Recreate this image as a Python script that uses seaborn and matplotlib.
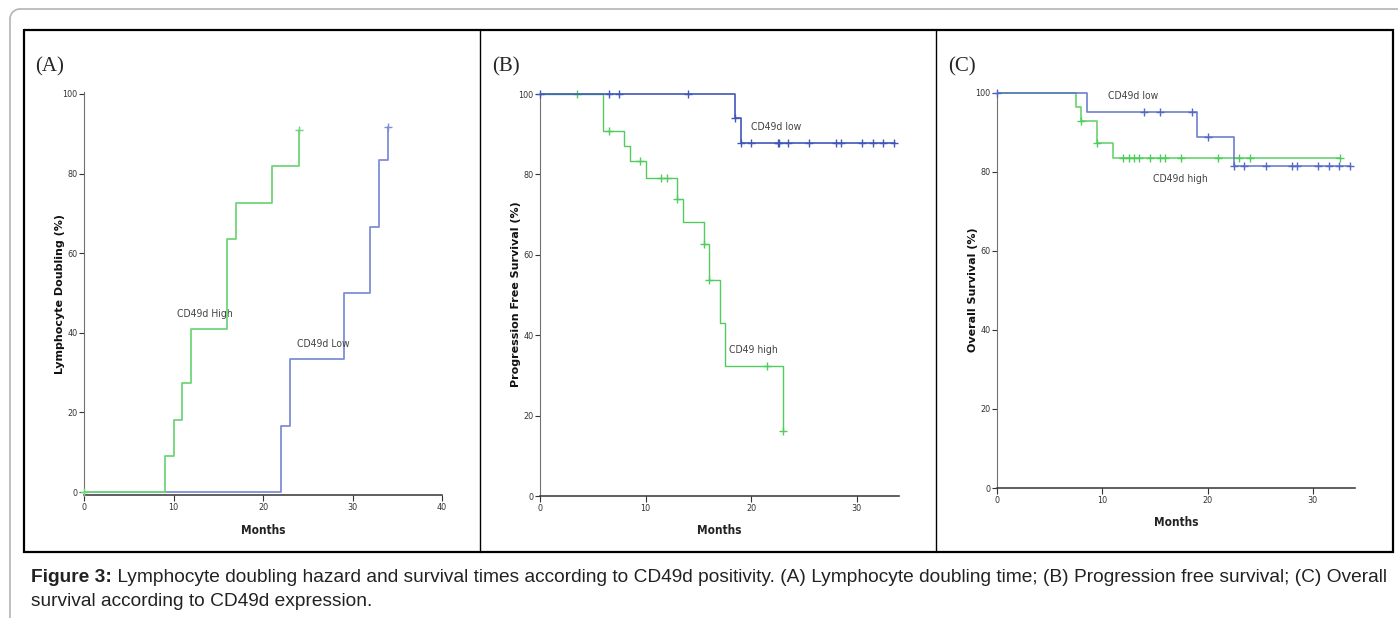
import matplotlib
matplotlib.use("Agg")
import matplotlib.pyplot as plt
import seaborn as sns
import pandas as pd
from matplotlib.patches import Arc

# ---------------- data ----------------
# (A) Lymphocyte doubling (cumulative %)
a_high_t = [0, 9, 10, 11, 12, 16, 17, 21, 24]
a_high_v = [0, 9.1, 18.2, 27.3, 40.9, 63.6, 72.7, 81.8, 90.9]
a_high_cens_t = [0, 24]
a_high_cens_v = [0, 90.9]
a_low_t = [0, 22, 23, 29, 32, 33, 34]
a_low_v = [0, 16.7, 33.3, 50.0, 66.7, 83.3, 91.7]
a_low_cens_t = [34]
a_low_cens_v = [91.7]

# (B) Progression free survival (%)
b_low_t = [0, 18.5, 19, 33.6]
b_low_v = [100, 94.1, 87.8, 87.8]
b_low_cens_t = [0, 6.5, 7.5, 14, 18.5, 19, 20, 22.5, 22.6, 23.5, 25.5, 28, 28.5, 30.5, 31.5, 32.5, 33.5]
b_low_cens_v = [100, 100, 100, 100, 94.1, 87.8, 87.8, 87.8, 87.8, 87.8, 87.8, 87.8, 87.8, 87.8, 87.8, 87.8, 87.8]
b_high_t = [0, 6, 8, 8.5, 10, 13, 13.5, 15.5, 16, 17, 17.5, 23]
b_high_v = [100, 90.9, 87.1, 83.4, 79.2, 74.0, 68.2, 62.6, 53.7, 43.0, 32.3, 16.1]
b_high_cens_t = [3.5, 6.5, 9.5, 11.5, 12, 13, 15.5, 16, 21.5, 23]
b_high_cens_v = [100, 90.9, 83.4, 79.2, 79.2, 74.0, 62.6, 53.7, 32.3, 16.1]

# (C) Overall survival (%)
c_low_t = [0, 8.5, 19, 22.5, 33.5]
c_low_v = [100, 95.2, 88.8, 81.4, 81.4]
c_low_cens_t = [0, 14, 15.5, 18.5, 20, 22.5, 23.5, 25.5, 28, 28.5, 30.5, 31.5, 32.5, 33.5]
c_low_cens_v = [100, 95.2, 95.2, 95.2, 88.8, 81.4, 81.4, 81.4, 81.4, 81.4, 81.4, 81.4, 81.4, 81.4]
c_high_t = [0, 7.5, 8, 9.5, 11, 32.6]
c_high_v = [100, 96.4, 92.9, 87.3, 83.5, 83.5]
c_high_cens_t = [8, 9.5, 12, 12.5, 13, 13.5, 14.5, 15.5, 16, 17.5, 21, 23, 24, 32.6]
c_high_cens_v = [92.9, 87.3, 83.5, 83.5, 83.5, 83.5, 83.5, 83.5, 83.5, 83.5, 83.5, 83.5, 83.5, 83.5]

y_ticks = [0, 20, 40, 60, 80, 100]
a_x_ticks = [0, 10, 20, 30, 40]
bc_x_ticks = [0, 10, 20, 30]

caption_bold = "Figure 3:"
caption_line1 = (" Lymphocyte doubling hazard and survival times according to CD49d positivity. "
                 "(A) Lymphocyte doubling time; (B) Progression free survival; (C) Overall")
caption_line2 = "survival according to CD49d expression."

# ---------------- style ----------------
sns.set_theme(style="white")
plt.rcParams["font.family"] = ["Liberation Sans", "DejaVu Sans"]
NARROW = ["Liberation Sans Narrow", "DejaVu Sans"]

W, H = 1398, 618
fig = plt.figure(figsize=(W / 100, H / 100), dpi=100)
fig.patch.set_facecolor("white")

# pixel-coordinate overlay for frames and caption
bg = fig.add_axes([0, 0, 1, 1])
bg.set_xlim(0, W)
bg.set_ylim(H, 0)
bg.axis("off")
bg.set_zorder(-5)

# outer light-grey rounded frame (only top/left visible)
r = 10
gray = "#b4b4b4"
bg.plot([10, 10], [9 + r, H + 5], color=gray, lw=1.2)
bg.plot([10 + r, W + 5], [9, 9], color=gray, lw=1.2)
bg.add_patch(Arc((10 + r, 9 + r), 2 * r, 2 * r, theta1=180, theta2=270, color=gray, lw=1.2))

# black panel frame
bg.plot([24, 1393, 1393, 24, 24], [30, 30, 552, 552, 30], color="black", lw=1.6, solid_joinstyle="miter")
bg.plot([480, 480], [30, 552], color="black", lw=1.0)
bg.plot([936, 936], [30, 552], color="black", lw=1.0)

# panel letters
for x, s in [(35, "(A)"), (492, "(B)"), (948, "(C)")]:
    bg.text(x, 67, s, family=["Liberation Serif", "DejaVu Serif"], fontsize=15, va="center", ha="left")


def px_axes(left, top, right, bottom):
    return fig.add_axes([left / W, 1 - bottom / H, (right - left) / W, (bottom - top) / H])


def narrowize(t):
    t.set_family(NARROW)
    t.set_fontstretch("condensed")


def setup(ax, xmax, ymin, xticks, ylabel, xlab_y, ylab_x):
    ax.set_facecolor("none")
    ax.set_xlim(0, xmax)
    ax.set_ylim(ymin, 100.5)
    sns.despine(ax=ax)
    ax.spines["left"].set_color("#707070")
    ax.spines["left"].set_linewidth(0.8)
    ax.spines["bottom"].set_color("#333333")
    ax.spines["bottom"].set_linewidth(1.1)
    ax.set_xticks(xticks)
    ax.set_yticks(y_ticks)
    ax.tick_params(axis="y", length=3.5, width=0.8, pad=1, labelsize=6.5, colors="#333333", left=True)
    ax.tick_params(axis="x", length=4, width=0.8, pad=1.5, labelsize=6.5, colors="#333333", bottom=True)
    for lab in ax.get_xticklabels() + ax.get_yticklabels():
        narrowize(lab)
    ax.set_xlabel("Months", fontweight="bold", fontsize=8.5, color="#222222")
    narrowize(ax.xaxis.label)
    ax.set_ylabel(ylabel, fontweight="bold", fontsize=8, family=["DejaVu Sans"], color="#111111")
    ax.xaxis.set_label_coords(0.5, xlab_y)
    ax.xaxis.label.set_va("center")
    ax.yaxis.set_label_coords(ylab_x, 0.5)
    ax.yaxis.label.set_va("center")
    ax.grid(False)


def curve(ax, t, v, ct, cv, color, lw, alpha=1.0, z=2):
    sns.lineplot(x=t, y=v, ax=ax, drawstyle="steps-post", color=color, lw=lw,
                 alpha=alpha, zorder=z, legend=False)
    sns.scatterplot(x=ct, y=cv, ax=ax, marker="+", s=30, color=color, linewidth=1.0,
                    zorder=z + 1, legend=False)
    for coll in ax.collections:
        coll.set_clip_on(False)


def label(ax, x, y, s):
    t = ax.text(x, y, s, fontsize=7.5, color="#444444", ha="left", va="center")
    narrowize(t)


# ---- Panel A ----
axA = px_axes(84, 92, 442, 495)
curve(axA, a_low_t, a_low_v, a_low_cens_t, a_low_cens_v, "#7d8fd6", 1.3)
curve(axA, a_high_t, a_high_v, a_high_cens_t, a_high_cens_v, "#6fd678", 1.3, z=4)
setup(axA, 40, -0.75, a_x_ticks, "Lymphocyte Doubling (%)", -36 / 403, -24 / 358)
label(axA, 10.4, 44.7, "CD49d High")
label(axA, 23.8, 37.2, "CD49d Low")

# ---- Panel B ----
axB = px_axes(540, 92, 899, 496)
curve(axB, b_high_t, b_high_v, b_high_cens_t, b_high_cens_v, "#52cc5e", 1.0)
curve(axB, b_low_t, b_low_v, b_low_cens_t, b_low_cens_v, "#4157b8", 1.2, z=4)
setup(axB, 34, 0, bc_x_ticks, "Progression Free Survival (%)", -35 / 404, -24 / 359)
label(axB, 20.0, 91.9, "CD49d low")
label(axB, 17.9, 36.3, "CD49 high")

# ---- Panel C ----
axC = px_axes(997, 91, 1355, 488)
curve(axC, c_high_t, c_high_v, c_high_cens_t, c_high_cens_v, "#4ccc58", 1.2, alpha=0.85)
curve(axC, c_low_t, c_low_v, c_low_cens_t, c_low_cens_v, "#5469c4", 1.2, alpha=0.85, z=4)
setup(axC, 34, 0, bc_x_ticks, "Overall Survival (%)", -34 / 397, -24 / 358)
label(axC, 10.5, 99.2, "CD49d low")
label(axC, 14.85, 78.3, "CD49d high")

# ---- Caption ----
cap_size = 13.8
t0 = bg.text(31, 577, caption_bold, fontsize=cap_size, fontweight="bold", va="center", ha="left",
             color="#222222")
fig.canvas.draw()
bb = t0.get_window_extent(renderer=fig.canvas.get_renderer())
x_after = bb.x1
bg.text(x_after, 577, caption_line1, fontsize=cap_size, va="center", ha="left", color="#222222")
bg.text(31, 601, caption_line2, fontsize=cap_size, va="center", ha="left", color="#222222")

fig.savefig("out.png", dpi=100, facecolor="white")
